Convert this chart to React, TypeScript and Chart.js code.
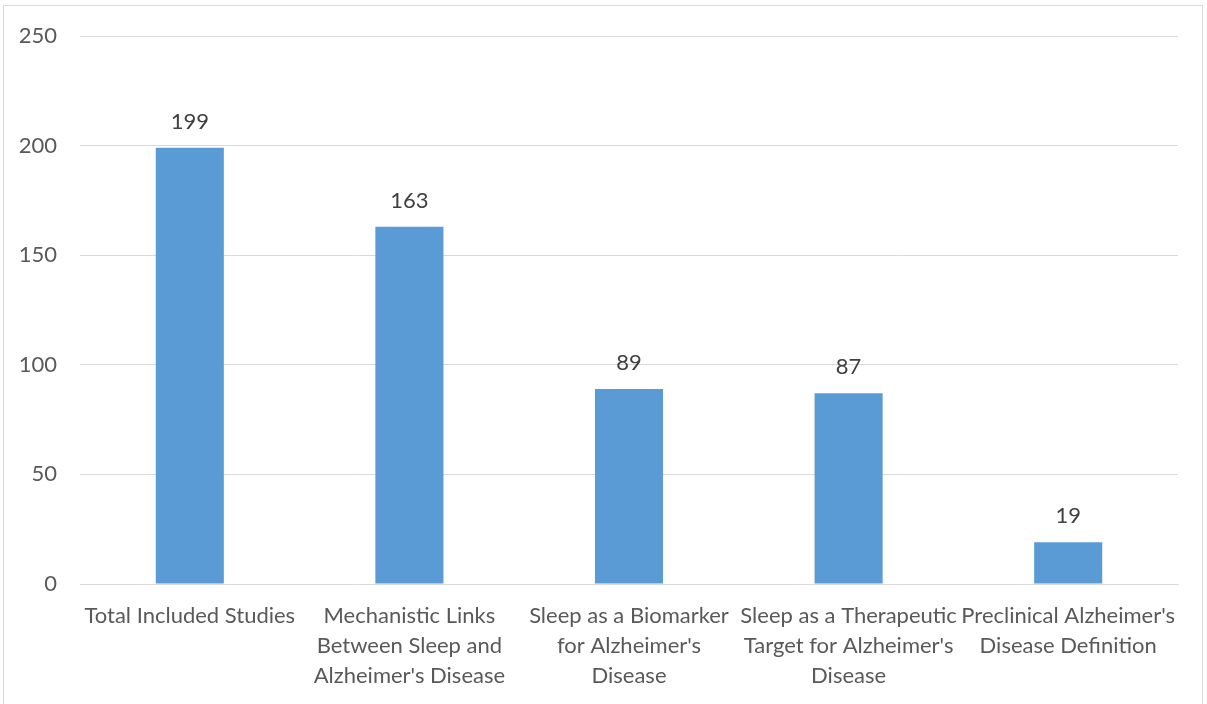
import React, { useEffect, useRef } from "react";
import { Chart, registerables } from "chart.js";

Chart.register(...registerables);

// Study counts per review theme
const categories: string[][] = [
  ["Total Included Studies"],
  ["Mechanistic Links", "Between Sleep and", "Alzheimer's Disease"],
  ["Sleep as a Biomarker", "for Alzheimer's", "Disease"],
  ["Sleep as a Therapeutic", "Target for Alzheimer's", "Disease"],
  ["Preclinical Alzheimer's", "Disease Definition"],
];
const studyCounts: number[] = [199, 163, 89, 87, 19];
const yTicks: number[] = [0, 50, 100, 150, 200, 250];

const FONT_FAMILY = "Lato, 'Open Sans', sans-serif";
const BAR_COLOR = "#5B9BD5";
const GRID_COLOR = "#D9D9D9";
const TEXT_COLOR = "#595959";
const VALUE_COLOR = "#404040";

// Writes each bar's value just above its top edge
const valueLabels = {
  id: "valueLabels",
  afterDatasetsDraw(chart: any) {
    const { ctx } = chart;
    const meta = chart.getDatasetMeta(0);
    const data = chart.data.datasets[0].data as number[];
    ctx.save();
    ctx.font = `22px ${FONT_FAMILY}`;
    ctx.fillStyle = VALUE_COLOR;
    ctx.textAlign = "center";
    ctx.textBaseline = "middle";
    meta.data.forEach((bar: any, i: number) => {
      ctx.fillText(String(data[i]), bar.x, bar.y - 26);
    });
    ctx.restore();
  },
};

export default function App() {
  const canvasRef = useRef<HTMLCanvasElement | null>(null);

  useEffect(() => {
    if (!canvasRef.current) return;
    const chart = new Chart(canvasRef.current, {
      type: "bar",
      data: {
        labels: categories,
        datasets: [
          {
            data: studyCounts,
            backgroundColor: BAR_COLOR,
            borderWidth: 0,
            categoryPercentage: 1,
            barPercentage: 0.31,
          },
        ],
      },
      plugins: [valueLabels],
      options: {
        responsive: false,
        animation: false,
        layout: { padding: { top: 30, left: 0, right: 24, bottom: 0 } },
        plugins: {
          legend: { display: false },
          tooltip: { enabled: false },
        },
        scales: {
          x: {
            grid: { display: false },
            border: { display: true, color: GRID_COLOR, width: 1 },
            ticks: {
              autoSkip: false,
              maxRotation: 0,
              minRotation: 0,
              padding: 9,
              color: TEXT_COLOR,
              font: { family: FONT_FAMILY, size: 22, lineHeight: "30px" },
            },
            afterFit(scale: any) {
              scale.height = 120;
              scale.paddingLeft = 0;
              scale.paddingRight = 0;
            },
          },
          y: {
            min: 0,
            max: 250,
            afterBuildTicks(scale: any) {
              scale.ticks = yTicks.map((v) => ({ value: v }));
            },
            grid: { color: GRID_COLOR, drawTicks: false, lineWidth: 1 },
            border: { display: false },
            ticks: {
              padding: 23,
              color: TEXT_COLOR,
              font: { family: FONT_FAMILY, size: 22 },
            },
            afterFit(scale: any) {
              scale.width = 76;
              scale.paddingTop = 0;
              scale.paddingBottom = 0;
            },
          },
        },
      },
    });
    return () => chart.destroy();
  }, []);

  return (
    <div
      style={{
        position: "absolute",
        left: 3,
        top: 5,
        width: 1200,
        height: 699,
        boxSizing: "border-box",
        borderTop: `1px solid ${GRID_COLOR}`,
        borderLeft: `1px solid ${GRID_COLOR}`,
        borderRight: `1px solid ${GRID_COLOR}`,
        background: "#FFFFFF",
      }}
    >
      <canvas
        ref={canvasRef}
        width={1198}
        height={698}
        style={{ display: "block", width: 1198, height: 698 }}
      />
    </div>
  );
}
